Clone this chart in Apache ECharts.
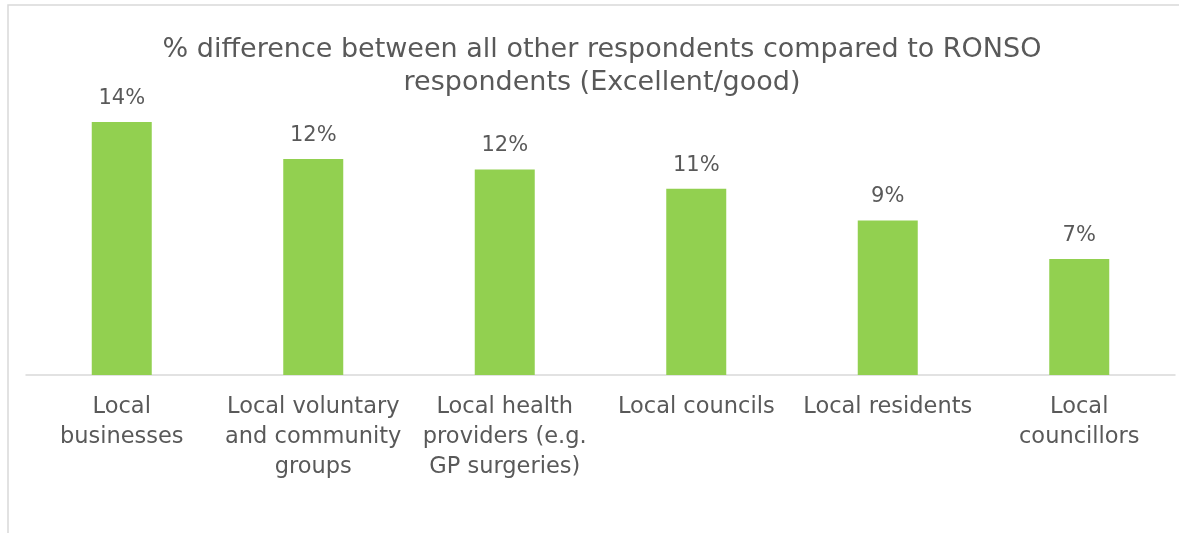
<!DOCTYPE html>
<html>
<head>
<meta charset="utf-8">
<script src="https://cdn.jsdelivr.net/npm/echarts@6/dist/echarts.min.js"></script>
<style>
  html, body { margin: 0; padding: 0; background: #ffffff; }
  #chart { width: 1179px; height: 533px; }
</style>
</head>
<body>
<div id="chart"></div>
<script>
// Respondent groups (line breaks give the wrapped axis labels)
const categories = [
  'Local\nbusinesses',
  'Local voluntary\nand community\ngroups',
  'Local health\nproviders (e.g.\nGP surgeries)',
  'Local councils',
  'Local residents',
  'Local\ncouncillors'
];
// % difference, all other respondents vs RONSO respondents (Excellent/good)
const differences = [14.4, 12.3, 11.7, 10.6, 8.8, 6.6];

const titleText = '% difference between all other respondents compared to RONSO\nrespondents (Excellent/good)';
const FONT = 'DejaVu Sans';
const GREY = '#595959';

const chart = echarts.init(document.getElementById('chart'), null, { renderer: 'canvas' });

chart.setOption({
  animation: false,
  backgroundColor: '#ffffff',
  title: {
    text: titleText,
    left: 597,
    top: 28,
    textAlign: 'center',
    textStyle: {
      fontFamily: FONT,
      fontSize: 27,
      fontWeight: 'normal',
      color: GREY,
      lineHeight: 33
    }
  },
  grid: {
    left: 26,
    right: 4,
    top: 94,
    bottom: 158,
    containLabel: false
  },
  xAxis: {
    type: 'category',
    data: categories,
    axisLine: { lineStyle: { color: '#d9d9d9', width: 1.5 } },
    axisTick: { show: false },
    axisLabel: {
      interval: 0,
      margin: 17,
      fontFamily: FONT,
      fontSize: 22.5,
      lineHeight: 30,
      color: GREY
    }
  },
  yAxis: {
    type: 'value',
    min: 0,
    max: 16,
    show: false,
    splitLine: { show: false }
  },
  series: [{
    type: 'bar',
    data: differences,
    barWidth: 60,
    itemStyle: { color: '#92D050' },
    label: {
      show: true,
      position: 'top',
      distance: 13,
      fontFamily: FONT,
      fontSize: 21,
      color: GREY,
      formatter: p => Math.round(p.value) + '%'
    }
  }],
  graphic: [
    {
      type: 'polyline',
      shape: { points: [[8, 533], [8, 5], [1179, 5]] },
      style: { stroke: '#d9d9d9', lineWidth: 1.5, fill: null },
      silent: true
    }
  ]
});
</script>
</body>
</html>
